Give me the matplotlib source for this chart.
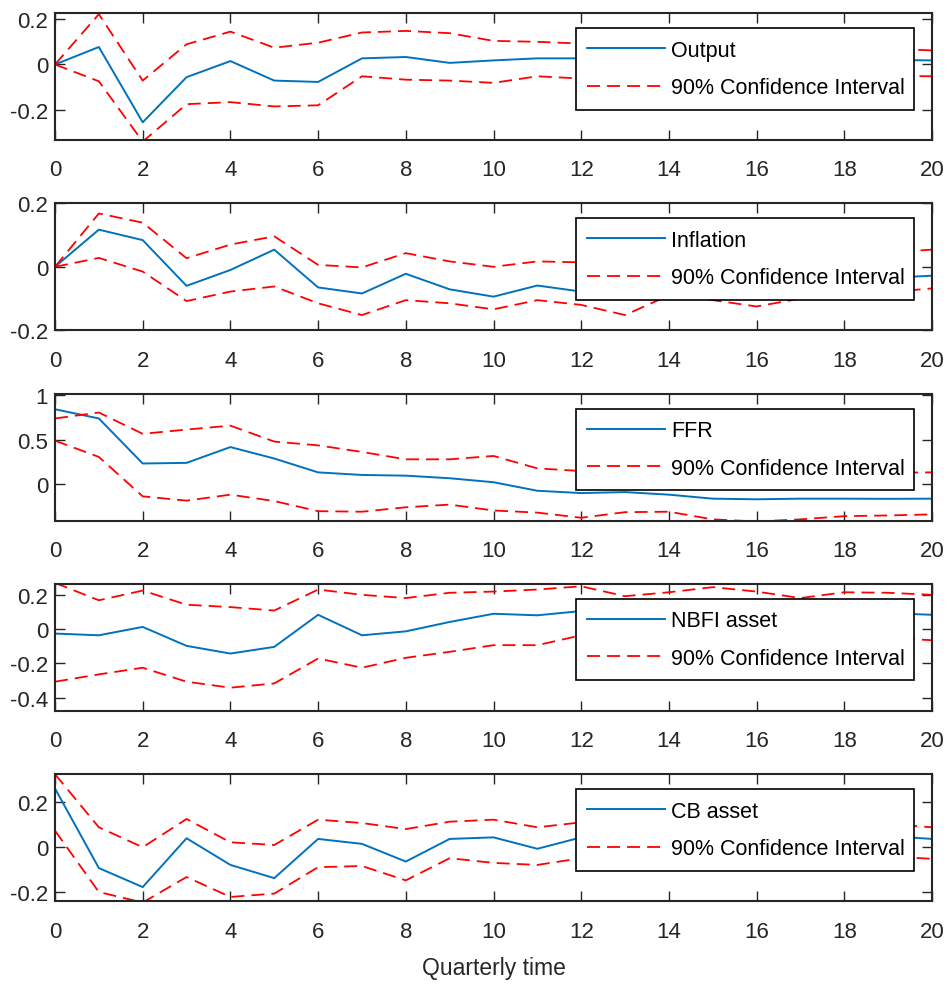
import matplotlib.pyplot as plt
from matplotlib.ticker import FuncFormatter

plt.rcParams["font.family"] = ["Liberation Sans", "DejaVu Sans"]
plt.rcParams["axes.unicode_minus"] = False

quarters = list(range(21))

names = ["Output", "Inflation", "FFR", "NBFI asset", "CB asset"]

output_mean = [0, 0.077, -0.255, -0.056, 0.015, -0.071, -0.077, 0.027, 0.033, 0.007, 0.018,
               0.027, 0.027, 0.03, 0.03, 0.03, 0.025, 0.022, 0.02, 0.02, 0.018]
output_upper = [0, 0.222, -0.071, 0.089, 0.145, 0.074, 0.096, 0.141, 0.148, 0.138, 0.104,
                0.1, 0.092, 0.09, 0.085, 0.08, 0.078, 0.075, 0.072, 0.07, 0.062]
output_lower = [0, -0.074, -0.34, -0.175, -0.166, -0.185, -0.18, -0.052, -0.067, -0.071, -0.081,
                -0.052, -0.062, -0.055, -0.05, -0.05, -0.05, -0.05, -0.05, -0.05, -0.052]

infl_mean = [0, 0.117, 0.084, -0.06, -0.01, 0.054, -0.065, -0.084, -0.022, -0.071, -0.094,
             -0.059, -0.078, -0.09, -0.06, -0.05, -0.07, -0.05, -0.04, -0.035, -0.028]
infl_upper = [0, 0.168, 0.139, 0.027, 0.07, 0.096, 0.006, -0.002, 0.043, 0.017, 0.0,
              0.017, 0.014, 0.0, 0.03, 0.04, 0.02, 0.04, 0.05, 0.045, 0.054]
infl_lower = [0, 0.028, -0.015, -0.108, -0.078, -0.062, -0.115, -0.152, -0.105, -0.115, -0.134,
              -0.105, -0.12, -0.152, -0.09, -0.105, -0.125, -0.1, -0.09, -0.08, -0.068]

ffr_mean = [0.844, 0.74, 0.233, 0.24, 0.418, 0.289, 0.133, 0.104, 0.096, 0.067, 0.022,
            -0.074, -0.1, -0.089, -0.118, -0.163, -0.17, -0.163, -0.163, -0.165, -0.163]
ffr_upper = [0.74, 0.807, 0.567, 0.615, 0.659, 0.48, 0.437, 0.363, 0.28, 0.28, 0.318,
             0.178, 0.148, 0.14, 0.15, 0.13, 0.12, 0.13, 0.13, 0.13, 0.133]
ffr_lower = [0.49, 0.307, -0.137, -0.185, -0.118, -0.19, -0.304, -0.31, -0.26, -0.23, -0.296,
             -0.32, -0.378, -0.315, -0.31, -0.396, -0.42, -0.396, -0.36, -0.352, -0.34]

nbfi_mean = [-0.025, -0.035, 0.014, -0.097, -0.142, -0.103, 0.085, -0.035, -0.012, 0.043, 0.091,
             0.082, 0.107, 0.11, 0.11, 0.12, 0.11, 0.1, 0.1, 0.095, 0.085]
nbfi_upper = [0.272, 0.17, 0.227, 0.144, 0.13, 0.11, 0.233, 0.202, 0.183, 0.214, 0.221,
              0.233, 0.252, 0.194, 0.217, 0.247, 0.221, 0.183, 0.217, 0.214, 0.202]
nbfi_lower = [-0.307, -0.264, -0.225, -0.307, -0.342, -0.317, -0.171, -0.225, -0.167, -0.132, -0.093,
              -0.093, -0.035, -0.03, -0.02, -0.02, -0.03, -0.05, -0.04, -0.05, -0.064]

cb_mean = [0.262, -0.093, -0.178, 0.04, -0.079, -0.138, 0.037, 0.015, -0.064, 0.037, 0.044,
           -0.007, 0.044, 0.04, 0.05, 0.05, 0.05, 0.06, 0.06, 0.05, 0.037]
cb_upper = [0.326, 0.089, 0.0, 0.126, 0.022, 0.01, 0.123, 0.108, 0.081, 0.114, 0.123,
            0.089, 0.111, 0.11, 0.12, 0.12, 0.12, 0.12, 0.12, 0.104, 0.089]
cb_lower = [0.074, -0.2, -0.247, -0.133, -0.222, -0.207, -0.089, -0.084, -0.148, -0.049, -0.07,
            -0.079, -0.049, -0.04, -0.03, -0.03, -0.03, -0.02, -0.03, -0.04, -0.052]

means = [output_mean, infl_mean, ffr_mean, nbfi_mean, cb_mean]
uppers = [output_upper, infl_upper, ffr_upper, nbfi_upper, cb_upper]
lowers = [output_lower, infl_lower, ffr_lower, nbfi_lower, cb_lower]

ylims = [(-0.333, 0.227), (-0.2, 0.2), (-0.41, 1.02), (-0.478, 0.266), (-0.241, 0.326)]
yticks = [[-0.2, 0, 0.2], [-0.2, 0, 0.2], [0, 0.5, 1], [-0.4, -0.2, 0, 0.2], [-0.2, 0, 0.2]]
xticks = list(range(0, 21, 2))

W, H = 952, 987
fig = plt.figure(figsize=(W / 100, H / 100), dpi=100)

fmt = FuncFormatter(lambda v, pos: "%g" % round(v, 3))
dashes = (0, (7.2, 3.9))

for i in range(5):
    top = 14 + 190.3 * i
    ax = fig.add_axes([55 / W, 1 - (top + 127) / H, 877 / W, 127 / H])

    ax.plot(quarters, means[i], color="#0072BD", lw=1.4, label=names[i])
    ax.plot(quarters, uppers[i], color="red", lw=1.3, ls=dashes,
            label="90% Confidence Interval")
    ax.plot(quarters, lowers[i], color="red", lw=1.3, ls=dashes)

    ax.set_xlim(0, 20)
    ax.set_ylim(*ylims[i])
    ax.set_xticks(xticks)
    ax.set_yticks(yticks[i])
    ax.yaxis.set_major_formatter(fmt)
    ax.tick_params(direction="in", length=7, width=1, top=True, right=True,
                   labelsize=16, colors="#262626")
    ax.tick_params(axis="x", pad=14)
    ax.tick_params(axis="y", pad=5)
    for sp in ax.spines.values():
        sp.set_linewidth(1.5)
        sp.set_color("#262626")

    leg = ax.legend(loc="upper left", bbox_to_anchor=(0.594, 0.215, 0.386, 0.666),
                    mode="expand", borderaxespad=0, fontsize=15.5, frameon=True,
                    fancybox=False, framealpha=1, edgecolor="black",
                    handlelength=3.6, handletextpad=0.3, labelspacing=0.77,
                    borderpad=0.53)
    leg.get_frame().set_linewidth(1.2)

    if i == 4:
        ax.set_xlabel("Quarterly time", fontsize=16.5, color="#262626", labelpad=10)

fig.savefig("out.png", dpi=100)
